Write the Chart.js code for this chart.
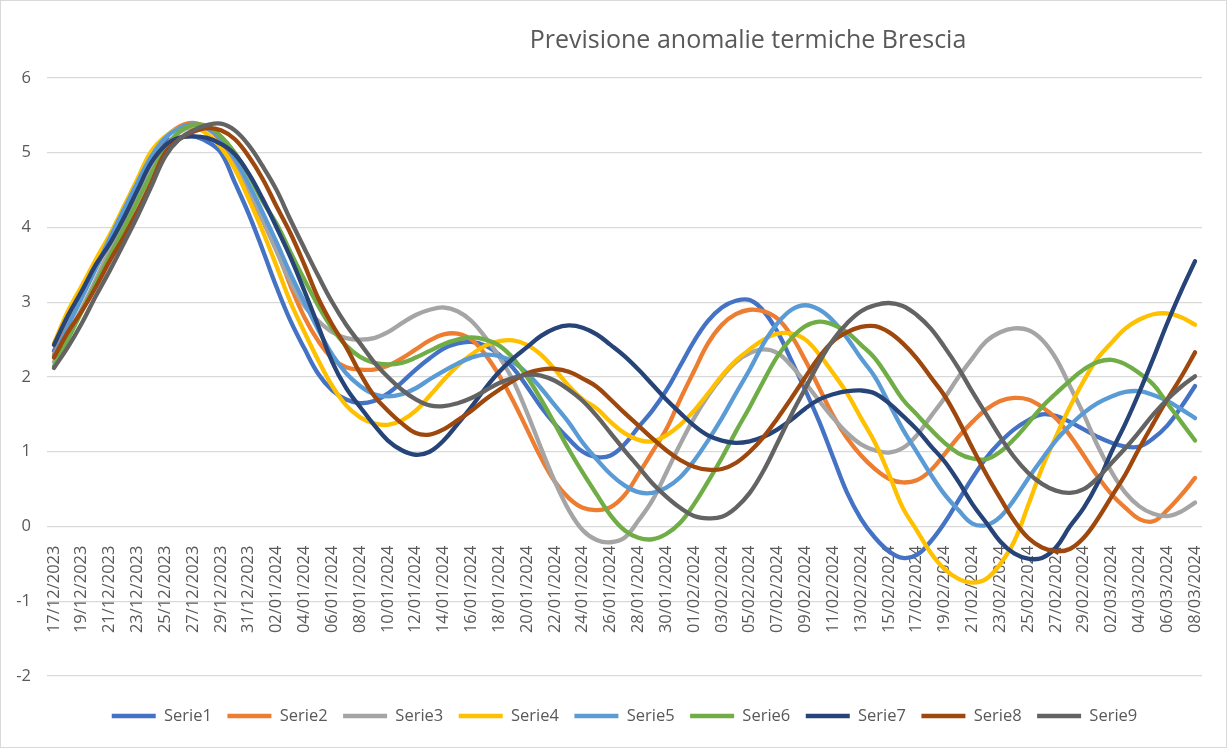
<!DOCTYPE html>
<html>
<head>
<meta charset="utf-8">
<title>Previsione anomalie termiche Brescia</title>
<script src="https://cdn.jsdelivr.net/npm/chart.js@4.4.1/dist/chart.umd.min.js"></script>
<style>
  html, body { margin: 0; padding: 0; background: #fff; }
  #wrap { position: relative; width: 1227px; height: 748px; box-sizing: border-box; border: 1px solid #d9d9d9; }
  #title { position: absolute; left: 747px; top: 37px; transform: translate(-50%, -50%);
           font: 25px "Open Sans", sans-serif; color: #595959; white-space: nowrap; }
  canvas { display: block; }
</style>
</head>
<body>
<div id="wrap">
  <canvas id="chart"></canvas>
  <div id="title">Previsione anomalie termiche Brescia</div>
</div>
<script>
// Categories: one per day, 17/12/2023 .. 08/03/2024
const dates = [
  '17/12/2023','18/12/2023','19/12/2023','20/12/2023','21/12/2023','22/12/2023','23/12/2023','24/12/2023',
  '25/12/2023','26/12/2023','27/12/2023','28/12/2023','29/12/2023','30/12/2023','31/12/2023',
  '01/01/2024','02/01/2024','03/01/2024','04/01/2024','05/01/2024','06/01/2024','07/01/2024','08/01/2024',
  '09/01/2024','10/01/2024','11/01/2024','12/01/2024','13/01/2024','14/01/2024','15/01/2024','16/01/2024',
  '17/01/2024','18/01/2024','19/01/2024','20/01/2024','21/01/2024','22/01/2024','23/01/2024','24/01/2024',
  '25/01/2024','26/01/2024','27/01/2024','28/01/2024','29/01/2024','30/01/2024','31/01/2024',
  '01/02/2024','02/02/2024','03/02/2024','04/02/2024','05/02/2024','06/02/2024','07/02/2024','08/02/2024',
  '09/02/2024','10/02/2024','11/02/2024','12/02/2024','13/02/2024','14/02/2024','15/02/2024','16/02/2024',
  '17/02/2024','18/02/2024','19/02/2024','20/02/2024','21/02/2024','22/02/2024','23/02/2024','24/02/2024',
  '25/02/2024','26/02/2024','27/02/2024','28/02/2024','29/02/2024',
  '01/03/2024','02/03/2024','03/03/2024','04/03/2024','05/03/2024','06/03/2024','07/03/2024','08/03/2024'
];

// Series values (temperature anomaly)
const serie1 = [2.35, 2.75, 3.12, 3.48, 3.85, 4.25, 4.62, 5.0, 5.15, 5.2, 5.22, 5.15, 5.0,
  4.6, 4.18, 3.7, 3.2, 2.75, 2.38, 2.04, 1.82, 1.7, 1.65,
  1.68, 1.78, 1.93, 2.1, 2.25, 2.38, 2.45, 2.47, 2.42, 2.3,
  2.12, 1.87, 1.6, 1.37, 1.17, 1.0, 0.93, 0.95, 1.1, 1.33,
  1.55, 1.82, 2.15, 2.48, 2.75, 2.93, 3.02, 3.03, 2.88, 2.6,
  2.22, 1.82, 1.4, 0.92, 0.45, 0.1, -0.15, -0.33, -0.42, -0.38,
  -0.2, 0.05, 0.35, 0.65, 0.92, 1.13, 1.3, 1.42, 1.5, 1.48,
  1.4, 1.3, 1.2, 1.12, 1.07, 1.07, 1.18, 1.35, 1.6, 1.88];

const serie2 = [2.3, 2.7, 3.08, 3.45, 3.83, 4.22, 4.6, 4.95, 5.2, 5.35, 5.4, 5.33, 5.15,
  4.85, 4.45, 4.1, 3.7, 3.22, 2.8, 2.48, 2.25, 2.13, 2.1,
  2.1, 2.15, 2.25, 2.37, 2.49, 2.57, 2.58, 2.5, 2.3, 2.02,
  1.68, 1.3, 0.92, 0.6, 0.38, 0.25, 0.22, 0.26, 0.42, 0.7,
  1.0, 1.3, 1.7, 2.08, 2.45, 2.7, 2.84, 2.9, 2.88, 2.78,
  2.55, 2.22, 1.85, 1.48, 1.18, 0.95, 0.77, 0.64, 0.59, 0.62,
  0.75, 0.97, 1.2, 1.4, 1.57, 1.68, 1.72, 1.7, 1.6, 1.45,
  1.22, 0.95, 0.67, 0.43, 0.25, 0.1, 0.07, 0.22, 0.42, 0.65];

const serie3 = [2.2, 2.55, 2.92, 3.3, 3.7, 4.08, 4.45, 4.8, 5.08, 5.27, 5.35, 5.32, 5.18,
  4.9, 4.52, 4.1, 3.68, 3.27, 2.95, 2.75, 2.6, 2.52, 2.5,
  2.52, 2.6, 2.72, 2.83, 2.9, 2.93, 2.88, 2.75, 2.53, 2.27,
  1.95, 1.52, 1.05, 0.6, 0.22, -0.05, -0.18, -0.21, -0.15, 0.08,
  0.35, 0.72, 1.1, 1.45, 1.75, 2.0, 2.2, 2.32, 2.37, 2.32,
  2.15, 1.92, 1.68, 1.45, 1.25, 1.1, 1.02, 0.99, 1.05, 1.22,
  1.47, 1.72, 2.0, 2.25, 2.48, 2.6, 2.65, 2.63, 2.5, 2.25,
  1.88, 1.5, 1.08, 0.73, 0.45, 0.27, 0.17, 0.14, 0.2, 0.32];

const serie4 = [2.45, 2.88, 3.22, 3.57, 3.9, 4.27, 4.65, 5.02, 5.22, 5.33, 5.35, 5.25, 5.07,
  4.78, 4.38, 3.95, 3.48, 3.0, 2.6, 2.22, 1.88, 1.62, 1.46,
  1.38, 1.36, 1.42, 1.55, 1.75, 1.96, 2.15, 2.3, 2.42, 2.48,
  2.49, 2.43, 2.3, 2.1, 1.88, 1.7, 1.58, 1.4, 1.25, 1.16,
  1.14, 1.22, 1.36, 1.55, 1.78, 2.02, 2.22, 2.37, 2.5, 2.58,
  2.58, 2.5, 2.3, 2.05, 1.78, 1.45, 1.12, 0.7, 0.25, -0.05,
  -0.35, -0.57, -0.7, -0.75, -0.7, -0.5, -0.2, 0.28, 0.78, 1.2,
  1.6, 1.95, 2.25, 2.46, 2.65, 2.77, 2.84, 2.85, 2.8, 2.7];

const serie5 = [2.28, 2.68, 3.06, 3.45, 3.85, 4.23, 4.6, 4.95, 5.2, 5.33, 5.38, 5.33, 5.18,
  4.92, 4.58, 4.2, 3.8, 3.38, 3.0, 2.63, 2.3, 2.05, 1.88,
  1.77, 1.74, 1.77, 1.85, 1.97, 2.08, 2.18, 2.26, 2.3, 2.28,
  2.2, 2.05, 1.85, 1.62, 1.39, 1.12, 0.9, 0.7, 0.55, 0.46,
  0.45, 0.52, 0.66, 0.88, 1.15, 1.45, 1.78, 2.1, 2.45, 2.72,
  2.9, 2.96, 2.9, 2.75, 2.52, 2.25, 2.0, 1.65, 1.3, 1.0,
  0.7, 0.43, 0.22, 0.04, 0.02, 0.13, 0.36, 0.64, 0.9, 1.15,
  1.35, 1.52, 1.65, 1.74, 1.8, 1.81, 1.76, 1.68, 1.57, 1.45];

const serie6 = [2.14, 2.5, 2.88, 3.25, 3.62, 3.98, 4.35, 4.72, 5.05, 5.28, 5.37, 5.36, 5.22,
  5.0, 4.7, 4.35, 4.05, 3.67, 3.3, 2.95, 2.65, 2.42, 2.27,
  2.19, 2.17, 2.19, 2.26, 2.35, 2.44, 2.5, 2.53, 2.5, 2.42,
  2.25, 2.0, 1.7, 1.37, 1.03, 0.72, 0.43, 0.15, -0.05, -0.15,
  -0.17, -0.1, 0.05, 0.3, 0.6, 0.92, 1.27, 1.6, 1.95, 2.28,
  2.52, 2.68, 2.74, 2.7, 2.6, 2.43, 2.25, 1.98, 1.7, 1.5,
  1.3, 1.12, 0.98, 0.91, 0.9, 1.0, 1.17, 1.38, 1.6, 1.78,
  1.95, 2.1, 2.2, 2.23, 2.17, 2.05, 1.9, 1.65, 1.4, 1.15];

const serie7 = [2.43, 2.82, 3.15, 3.5, 3.78, 4.12, 4.5, 4.87, 5.1, 5.2, 5.22, 5.2, 5.12,
  4.98, 4.72, 4.38, 4.0, 3.6, 3.15, 2.68, 2.2, 1.85, 1.6,
  1.36, 1.15, 1.02, 0.96, 1.0, 1.15, 1.37, 1.6, 1.85, 2.07,
  2.25, 2.4, 2.55, 2.65, 2.69, 2.66, 2.57, 2.43, 2.28, 2.1,
  1.9, 1.7, 1.52, 1.35, 1.22, 1.15, 1.12, 1.14, 1.2, 1.3,
  1.43, 1.58, 1.7, 1.77, 1.81, 1.82, 1.78, 1.65, 1.48, 1.3,
  1.08, 0.87, 0.6, 0.3, 0.05, -0.2, -0.36, -0.43, -0.42, -0.28,
  0.0, 0.25, 0.58, 1.0, 1.38, 1.8, 2.25, 2.72, 3.15, 3.55];

const serie8 = [2.26, 2.6, 2.88, 3.2, 3.55, 3.87, 4.22, 4.6, 5.0, 5.18, 5.28, 5.33, 5.3,
  5.18, 4.95, 4.65, 4.28, 3.92, 3.5, 3.05, 2.7, 2.4, 2.05,
  1.75, 1.55, 1.38, 1.25, 1.23, 1.3, 1.42, 1.55, 1.7, 1.83,
  1.95, 2.05, 2.1, 2.11, 2.07, 1.98, 1.87, 1.7, 1.52, 1.35,
  1.18, 1.02, 0.89, 0.8, 0.76, 0.77, 0.85, 1.0, 1.2, 1.45,
  1.72, 2.0, 2.27, 2.48, 2.6, 2.67, 2.68, 2.6, 2.45, 2.25,
  2.0, 1.75, 1.42, 1.05, 0.7, 0.38, 0.08, -0.15, -0.28, -0.33,
  -0.3, -0.15, 0.1, 0.4, 0.7, 1.05, 1.38, 1.7, 2.0, 2.33];

const serie9 = [2.12, 2.4, 2.72, 3.08, 3.42, 3.78, 4.15, 4.55, 4.95, 5.18, 5.3, 5.37, 5.39,
  5.3, 5.1, 4.82, 4.5, 4.1, 3.72, 3.35, 3.0, 2.7, 2.45,
  2.2, 2.0, 1.83, 1.7, 1.62, 1.61, 1.65, 1.72, 1.82, 1.92,
  1.99, 2.03, 2.02, 1.95, 1.83, 1.68, 1.48, 1.25, 1.02, 0.8,
  0.58, 0.4, 0.25, 0.14, 0.11, 0.13, 0.25, 0.45, 0.75, 1.12,
  1.5, 1.85, 2.2, 2.5, 2.72, 2.88, 2.96, 2.99, 2.95, 2.83,
  2.65, 2.4, 2.12, 1.8, 1.5, 1.2, 0.93, 0.72, 0.57, 0.48,
  0.45, 0.5, 0.65, 0.85, 1.05, 1.27, 1.5, 1.7, 1.87, 2.01];

const seriesNames  = ['Serie1', 'Serie2', 'Serie3', 'Serie4', 'Serie5', 'Serie6', 'Serie7', 'Serie8', 'Serie9'];
const seriesValues = [serie1, serie2, serie3, serie4, serie5, serie6, serie7, serie8, serie9];
const seriesColors = ['#4472C4', '#ED7D31', '#A5A5A5', '#FFC000', '#5B9BD5', '#70AD47', '#264478', '#9E480E', '#636363'];

const FONT = '"Open Sans", sans-serif';
const TEXT = '#595959';
const GRID = '#d9d9d9';

const datasets = seriesNames.map((name, i) => ({
  label: name,
  data: seriesValues[i],
  borderColor: seriesColors[i],
  backgroundColor: seriesColors[i],
  borderWidth: 4.3,
  borderCapStyle: 'round',
  borderJoinStyle: 'round',
  pointRadius: 0,
  pointHoverRadius: 0,
  tension: 0.4,
  fill: false,
  order: seriesNames.length - i,   // later series drawn on top, like Excel
}));

new Chart(document.getElementById('chart'), {
  type: 'line',
  data: { labels: dates, datasets },
  options: {
    responsive: true,
    maintainAspectRatio: false,
    animation: false,
    layout: { padding: { top: 77, right: 21, bottom: 12.75, left: 0 } },
    plugins: {
      title: { display: false },
      tooltip: { enabled: false },
      legend: {
        position: 'bottom',
        fullSize: false,   // centre the legend under the plot area
        // empty title only used as a spacer between plot and legend row
        title: { display: true, text: '', padding: { top: 15, bottom: 0 }, font: { size: 1, lineHeight: 1.2 } },
        labels: {
          usePointStyle: true,
          pointStyle: 'line',
          pointStyleWidth: 44,
          color: TEXT,
          font: { family: FONT, size: 16.5 },
          padding: 15.5,
          sort: (a, b) => a.datasetIndex - b.datasetIndex,
        },
      },
    },
    scales: {
      x: {
        position: { y: 0 },
        offset: true,
        grid: { display: false },
        border: { display: false },
        ticks: {
          autoSkip: false,
          minRotation: 90,
          maxRotation: 90,
          color: TEXT,
          font: { family: FONT, size: 16.5 },
          padding: 11,
          callback: (v, i) => (i % 2 === 0 ? dates[i] : ''),
        },
      },
      y: {
        min: -2,
        max: 6,
        grid: { color: GRID, lineWidth: 1.25, drawTicks: false },
        border: { display: false },
        ticks: { stepSize: 1, color: TEXT, font: { family: FONT, size: 16.5 }, padding: 16 },
        afterFit: s => { s.width = 46; },
      },
    },
  },
});
</script>
</body>
</html>
